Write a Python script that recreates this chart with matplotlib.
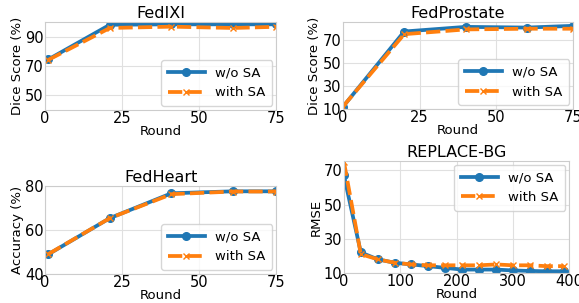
import numpy as np
import matplotlib.pyplot as plt

# FedIXI
ixi_round = [1, 21, 41, 61, 75]
ixi_wo = [74.5, 98.2, 98.5, 98.5, 98.5]
ixi_with = [74.2, 96.0, 96.9, 96.0, 96.8]

# FedProstate
pro_round = [0, 20, 40, 60, 75]
pro_wo = [11.8, 76.9, 80.9, 80.3, 81.8]
pro_with = [12.0, 74.6, 78.7, 79.3, 79.3]

# FedHeart
heart_round = [1, 21, 41, 61, 75]
heart_wo = [48.9, 65.4, 76.7, 77.6, 77.6]
heart_with = [49.0, 65.4, 76.3, 77.5, 77.5]

# REPLACE-BG
bg_round = [0, 30, 60, 90, 120, 150, 180, 210, 240, 270, 300, 330, 360, 390]
bg_wo = [67.0, 22.0, 18.0, 16.0, 15.0, 14.0, 13.0, 12.0, 12.0, 12.0, 11.5, 11.2, 11.0, 11.0]
bg_with = [75.0, 21.0, 18.0, 16.0, 15.0, 14.5, 14.5, 14.5, 14.5, 15.0, 14.5, 14.5, 14.0, 14.0]

plt.rcParams['font.family'] = 'DejaVu Sans'

fig = plt.figure(figsize=(5.79, 3.03), dpi=100)

panels = [
    # title, x, wo, with, ylabel, ylim, yticks, xlim, xticks, legend loc, position
    ('FedIXI', ixi_round, ixi_wo, ixi_with, 'Dice Score (%)', (40, 100), [50, 70, 90],
     (0, 75), [0, 25, 50, 75], 'lower right', [0.078, 0.637, 0.399, 0.290]),
    ('FedProstate', pro_round, pro_wo, pro_with, 'Dice Score (%)', (10, 85), [10, 30, 50, 70],
     (0, 75), [0, 25, 50, 75], 'lower right', [0.592, 0.640, 0.398, 0.287]),
    ('FedHeart', heart_round, heart_wo, heart_with, 'Accuracy (%)', (40, 80), [40, 60, 80],
     (0, 75), [0, 25, 50, 75], 'lower right', [0.078, 0.096, 0.399, 0.290]),
    ('REPLACE-BG', bg_round, bg_wo, bg_with, 'RMSE', (10, 75.5), [10, 30, 50, 70],
     (0, 400), [0, 100, 200, 300, 400], 'upper right', [0.594, 0.099, 0.389, 0.370]),
]

for title, x, wo, wi, ylab, ylim, yt, xlim, xt, loc, pos in panels:
    ax = fig.add_axes(pos)
    ax.plot(x, wo, color='#1f77b4', lw=2.7, marker='o', ms=5.5, label='w/o SA')
    ax.plot(x, wi, color='#ff7f0e', lw=2.7, ls='--', dashes=(3.8, 1.4), marker='x', ms=5,
            mew=1, label='with SA')
    ax.set_xlim(*xlim)
    ax.set_ylim(*ylim)
    ax.set_xticks(xt)
    ax.set_yticks(yt)
    ax.grid(True, color='#e0e0e0', lw=0.8)
    ax.set_axisbelow(True)
    for s in ax.spines.values():
        s.set_color('#cccccc')
        s.set_linewidth(0.8)
    ax.tick_params(length=0, labelsize=10.5, pad=1)
    ax.set_title(title, fontsize=11.5, pad=3)
    ax.set_xlabel('Round', fontsize=9.5, labelpad=-1)
    ax.set_ylabel(ylab, fontsize=9.5, labelpad=1)
    ax.legend(loc=loc, fontsize=9.5, handlelength=2.8, borderpad=0.5, labelspacing=0.5,
              borderaxespad=0.3)

fig.savefig('out.png', dpi=100)
